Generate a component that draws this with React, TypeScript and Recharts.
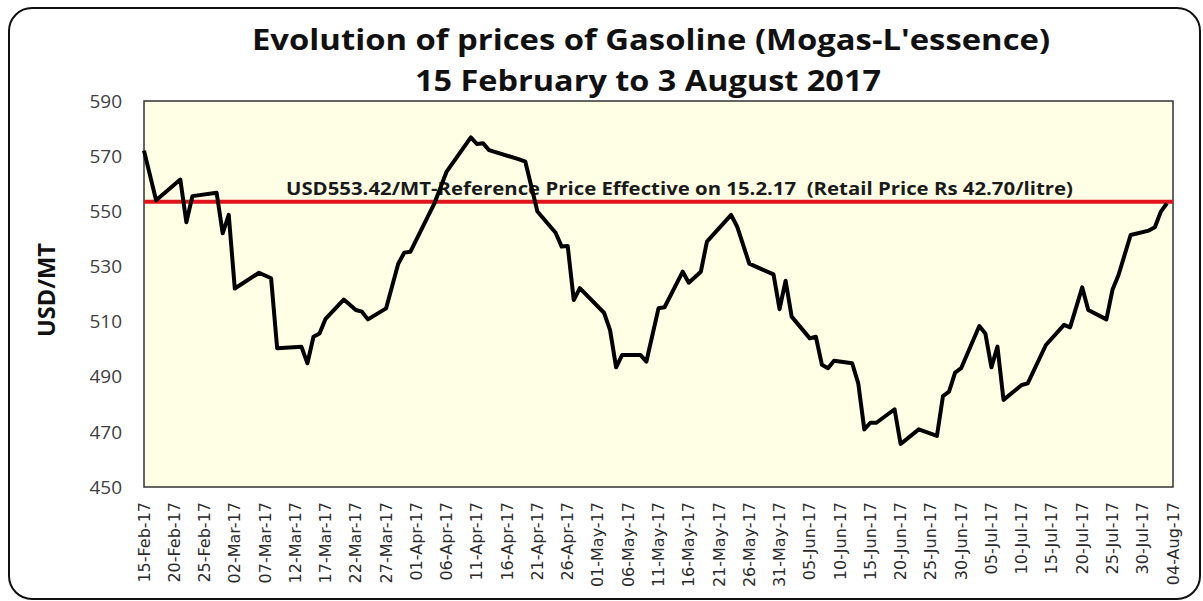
import React from 'react';
import { LineChart, Line, XAxis, YAxis, ReferenceLine, ReferenceArea } from 'recharts';

const startDate = '2017-02-15';

const dates = [
  '2017-02-15', '2017-02-17', '2017-02-21', '2017-02-22', '2017-02-23', '2017-02-27', '2017-02-28',
  '2017-03-01', '2017-03-02', '2017-03-06', '2017-03-08', '2017-03-09', '2017-03-13', '2017-03-14',
  '2017-03-15', '2017-03-16', '2017-03-17', '2017-03-20', '2017-03-22', '2017-03-23', '2017-03-24',
  '2017-03-27', '2017-03-29', '2017-03-30', '2017-03-31', '2017-04-04', '2017-04-06', '2017-04-10',
  '2017-04-11', '2017-04-12', '2017-04-13', '2017-04-18', '2017-04-19', '2017-04-21', '2017-04-24',
  '2017-04-25', '2017-04-26', '2017-04-27', '2017-04-28', '2017-05-02', '2017-05-03', '2017-05-04',
  '2017-05-05', '2017-05-08', '2017-05-09', '2017-05-11', '2017-05-12', '2017-05-15', '2017-05-16',
  '2017-05-18', '2017-05-19', '2017-05-23', '2017-05-24', '2017-05-26', '2017-05-30', '2017-05-31',
  '2017-06-01', '2017-06-02', '2017-06-05', '2017-06-06', '2017-06-07', '2017-06-08', '2017-06-09',
  '2017-06-12', '2017-06-13', '2017-06-14', '2017-06-15', '2017-06-16', '2017-06-19', '2017-06-20',
  '2017-06-23', '2017-06-26', '2017-06-27', '2017-06-28', '2017-06-29', '2017-06-30', '2017-07-03',
  '2017-07-04', '2017-07-05', '2017-07-06', '2017-07-07', '2017-07-10', '2017-07-11', '2017-07-14',
  '2017-07-17', '2017-07-18', '2017-07-20', '2017-07-21', '2017-07-24', '2017-07-25', '2017-07-26',
  '2017-07-28', '2017-07-31', '2017-08-01', '2017-08-02', '2017-08-03',
];

const prices = [
  572.0, 554.0, 561.5, 546.0, 555.5, 556.7, 542.0,
  548.7, 522.0, 527.7, 525.7, 500.3, 500.9, 494.9,
  504.5, 505.7, 511.0, 518.0, 514.2, 513.6, 510.8,
  514.8, 531.0, 535.0, 535.3, 553.0, 564.4, 576.8,
  574.4, 574.7, 572.2, 568.8, 568.0, 549.9, 542.2,
  537.2, 537.4, 517.8, 522.1, 513.2, 506.9, 493.4,
  497.9, 497.9, 495.5, 514.8, 515.2, 528.1, 524.1,
  528.1, 539.0, 548.7, 544.4, 531.0, 527.1, 514.5,
  524.8, 511.8, 503.9, 504.5, 494.3, 493.1, 495.8,
  494.9, 487.6, 470.9, 473.3, 473.3, 478.2, 465.6,
  470.9, 468.5, 483.0, 484.6, 491.5, 493.1, 508.4,
  505.7, 493.4, 500.9, 481.6, 487.0, 487.6, 501.5,
  508.8, 507.9, 522.4, 514.2, 510.8, 521.5, 526.9,
  541.4, 543.0, 544.2, 549.9, 552.9,
];

const tickLabels = [
  '15-Feb-17', '20-Feb-17', '25-Feb-17', '02-Mar-17', '07-Mar-17', '12-Mar-17', '17-Mar-17',
  '22-Mar-17', '27-Mar-17', '01-Apr-17', '06-Apr-17', '11-Apr-17', '16-Apr-17', '21-Apr-17',
  '26-Apr-17', '01-May-17', '06-May-17', '11-May-17', '16-May-17', '21-May-17', '26-May-17',
  '31-May-17', '05-Jun-17', '10-Jun-17', '15-Jun-17', '20-Jun-17', '25-Jun-17', '30-Jun-17',
  '05-Jul-17', '10-Jul-17', '15-Jul-17', '20-Jul-17', '25-Jul-17', '30-Jul-17', '04-Aug-17',
];

const yTicks = [450, 470, 490, 510, 530, 550, 570, 590];

const referencePrice = 553.42;
const referenceText =
  'USD553.42/MT-Reference Price Effective on 15.2.17  (Retail Price Rs 42.70/litre)';
const titleLine1 = "Evolution of prices of Gasoline (Mogas-L'essence)";
const titleLine2 = '15 February to 3 August 2017';
const yAxisTitle = 'USD/MT';

const DAY = 86400000;
const dayIndex = (s: string) => Math.round((Date.parse(s) - Date.parse(startDate)) / DAY);
const data = dates.map((d, i) => ({ day: dayIndex(d), price: prices[i] }));
const xTicks = tickLabels.map((_, i) => i * 5);
const lastDay = xTicks[xTicks.length - 1];

const XTick = (props: any) => {
  const { x, y, payload } = props;
  const label = tickLabels[Math.round(payload.value / 5)];
  return (
    <text
      x={x}
      y={y}
      transform={`rotate(-90 ${x} ${y})`}
      textAnchor="end"
      dominantBaseline="central"
      fontFamily="DejaVu Sans"
      fontSize={16}
      fill="#2b2b2b"
    >
      {label}
    </text>
  );
};

const RefLabel = (props: any) => {
  const vb = props.viewBox || { x: 144, y: 203 };
  const x = (vb.x ?? 144) + 142;
  const y = (vb.y ?? 203) - 7;
  return (
    <text
      x={x}
      y={y}
      textLength={787}
      lengthAdjust="spacingAndGlyphs"
      fontFamily="Open Sans"
      fontWeight={700}
      fontSize={17}
      fill="#1a1a1a"
      style={{ whiteSpace: 'pre' }}
    >
      {referenceText}
    </text>
  );
};

export default function App() {
  return (
    <div style={{ position: 'absolute', left: 0, top: 0, width: 1203, height: 601, background: '#fff', overflow: 'hidden' }}>
      <div
        style={{
          position: 'absolute',
          left: 8,
          top: 7,
          width: 1193,
          height: 593,
          boxSizing: 'border-box',
          border: '2.5px solid #111',
          borderRadius: 24,
        }}
      />
      <div style={{ position: 'absolute', left: 0, top: 0 }}>
        <LineChart
          width={1203}
          height={601}
          data={data}
          margin={{ top: 101, right: 30, bottom: 14, left: 44 }}
        >
          <XAxis
            type="number"
            dataKey="day"
            domain={[0, lastDay]}
            ticks={xTicks}
            interval={0}
            tick={<XTick />}
            tickSize={0}
            tickMargin={15}
            axisLine={false}
            tickLine={false}
            height={100}
          />
          <YAxis
            type="number"
            domain={[450, 590]}
            ticks={yTicks}
            interval={0}
            width={100}
            tickSize={0}
            tickMargin={22}
            axisLine={false}
            tickLine={false}
            tick={{ fontFamily: 'Open Sans', fontSize: 19, fill: '#404040' }}
          />
          <ReferenceArea
            x1={0}
            x2={lastDay}
            y1={450}
            y2={590}
            fill="#FFFFE6"
            fillOpacity={1}
            stroke="#333"
            strokeWidth={1.5}
          />
          <ReferenceLine
            y={referencePrice}
            stroke="#E0141A"
            strokeWidth={4}
            label={<RefLabel />}
          />
          <Line
            type="linear"
            dataKey="price"
            stroke="#000"
            strokeWidth={4}
            strokeLinejoin="round"
            dot={false}
            isAnimationActive={false}
          />
        </LineChart>
      </div>
      <svg
        width={1203}
        height={601}
        style={{ position: 'absolute', left: 0, top: 0, pointerEvents: 'none' }}
      >
        <text
          x={651}
          y={50}
          textAnchor="middle"
          textLength={798}
          lengthAdjust="spacingAndGlyphs"
          fontFamily="Open Sans"
          fontWeight={700}
          fontSize={29}
          fill="#111"
        >
          {titleLine1}
        </text>
        <text
          x={648}
          y={91}
          textAnchor="middle"
          textLength={466}
          lengthAdjust="spacingAndGlyphs"
          fontFamily="Open Sans"
          fontWeight={700}
          fontSize={29}
          fill="#111"
        >
          {titleLine2}
        </text>
        <text
          x={55}
          y={290}
          transform="rotate(-90 55 290)"
          textAnchor="middle"
          textLength={94}
          lengthAdjust="spacingAndGlyphs"
          fontFamily="Open Sans"
          fontWeight={700}
          fontSize={24}
          fill="#111"
        >
          {yAxisTitle}
        </text>
      </svg>
    </div>
  );
}
